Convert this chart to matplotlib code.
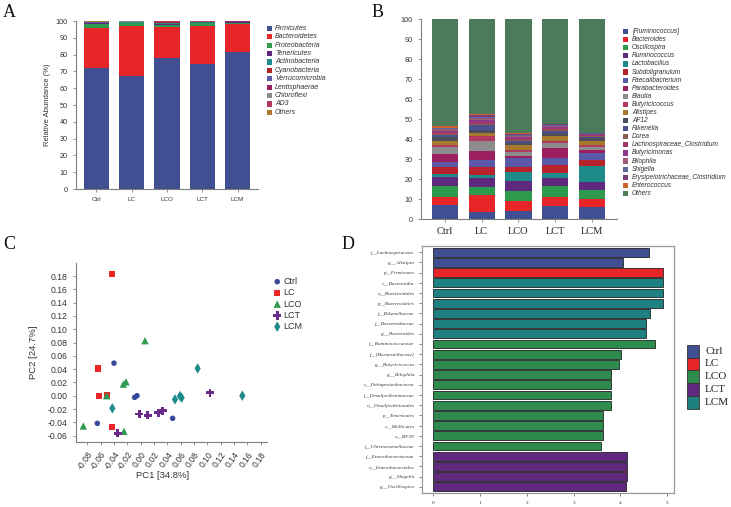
import matplotlib
matplotlib.use('Agg')
import matplotlib.pyplot as plt
from matplotlib.patches import Rectangle
import numpy as np

W, H = 731, 507
fig = plt.figure(figsize=(W / 100, H / 100), dpi=100)
SANS = 'Liberation Sans'
SERIF = 'Liberation Serif'

# ---------------- data ----------------
groups = ['Ctrl', 'LC', 'LCO', 'LCT', 'LCM']

# Panel A: phylum level relative abundance (%)
phyla = ['Firmicutes', 'Bacteroidetes', 'Proteobacteria', 'Tenericutes', 'Actinobacteria',
         'Cyanobacteria', 'Verrucomicrobia', 'Lentisphaerae', 'Chloroflexi', 'AD3', 'Others']
phylum_ctrl = [72.2, 23.6, 2.2, 0.6, 0.3, 0.2, 0.2, 0.2, 0.1, 0.1, 0.3]
phylum_lc = [67.2, 30.0, 1.4, 0.5, 0.2, 0.2, 0.1, 0.1, 0.1, 0.1, 0.1]
phylum_lco = [78.0, 18.2, 1.6, 0.7, 0.4, 0.3, 0.2, 0.2, 0.1, 0.1, 0.2]
phylum_lct = [74.2, 23.0, 1.4, 0.4, 0.2, 0.2, 0.1, 0.1, 0.1, 0.1, 0.2]
phylum_lcm = [81.5, 16.5, 0.6, 0.6, 0.2, 0.2, 0.1, 0.1, 0.05, 0.05, 0.1]

# Panel B: genus level relative abundance (%)
genera = ['[Ruminococcus]', 'Bacteroides', 'Oscillospira', 'Ruminococcus', 'Lactobacillus',
          'Subdoligranulum', 'Faecalibacterium', 'Parabacteroides', 'Blautia', 'Butyricicoccus',
          'Alistipes', 'AF12', 'Rikenella', 'Dorea', 'Lachnospiraceae_Clostridium',
          'Butyricimonas', 'Bilophila', 'Shigella', 'Erysipelotrichaceae_Clostridium',
          'Enterococcus', 'Others']
genus_ctrl = [7.0, 4.0, 5.3, 4.7, 1.5, 3.7, 2.3, 4.0, 3.3, 1.2, 2.2, 1.6, 1.2, 0.6, 0.9, 0.7, 0.8, 0.3, 0.4, 0.7, 53.6]
genus_lc = [3.5, 8.5, 4.0, 4.5, 1.3, 4.2, 3.3, 4.5, 5.4, 2.3, 1.7, 1.3, 2.3, 0.5, 1.3, 0.9, 1.0, 0.5, 0.8, 0.5, 47.7]
genus_lco = [4.0, 5.2, 5.0, 5.0, 4.5, 2.5, 4.1, 1.4, 1.7, 1.1, 2.3, 1.4, 0.8, 0.5, 0.8, 0.7, 0.6, 0.4, 0.5, 0.3, 57.2]
genus_lct = [6.7, 4.3, 5.5, 4.2, 2.3, 3.8, 3.9, 4.8, 2.3, 1.2, 2.3, 1.5, 1.2, 0.5, 0.8, 0.7, 0.6, 0.4, 0.3, 0.3, 52.4]
genus_lcm = [6.0, 3.8, 4.7, 4.0, 8.0, 3.2, 3.1, 1.5, 1.5, 1.2, 2.2, 1.3, 0.5, 0.4, 0.6, 0.3, 0.3, 0.2, 0.2, 0.2, 56.8]

# Panel C: PCoA coordinates
pc1_ctrl = [-0.040, -0.065, -0.009, -0.0055, 0.048]
pc2_ctrl = [0.049, -0.0416, -0.0025, 0.000, -0.034]
pc1_lc = [-0.0435, -0.0645, -0.062, -0.051, -0.0425]
pc2_lc = [0.183, 0.041, -0.001, 0.0005, -0.0476]
pc1_lco = [0.0065, -0.022, -0.026, -0.051, -0.086, -0.025]
pc2_lco = [0.0827, 0.021, 0.0175, 0.000, -0.0456, -0.0536]
pc1_lct = [-0.0345, -0.002, 0.0105, 0.0265, 0.033, 0.104]
pc2_lct = [-0.0566, -0.0276, -0.0296, -0.0256, -0.0226, 0.0045]
pc1_lcm = [-0.0425, 0.0515, 0.059, 0.0615, 0.0855, 0.1525]
pc2_lcm = [-0.019, -0.0055, -0.0005, -0.003, 0.041, 0.000]

# Panel D: LDA scores
lda_taxa = ['f__Lachnospiraceae', 'g__Alistipes', 'p__Firmicutes', 'c__Bacteroidia',
            'o__Bacteroidales', 'p__Bacteroidetes', 'f__Rikenellaceae', 'f__Bacteroidaceae',
            'g__Bacteroides', 'f__Ruminococcaceae', 'f__[Barnesiellaceae]', 'g__Butyricicoccus',
            'g__Bilophila', 'c__Deltaproteobacteria', 'f__Desulfovibrionaceae',
            'o__Desulfovibrionales', 'p__Tenericutes', 'c__Mollicutes', 'o__RF39',
            'f__Christensenellaceae', 'f__Enterobacteriaceae', 'o__Enterobacteriales',
            'g__Shigella', 'g__Oscillospira']
lda_score = [4.61, 4.05, 4.90, 4.90, 4.90, 4.90, 4.64, 4.54, 4.54, 4.73, 4.02, 3.96,
             3.79, 3.79, 3.79, 3.79, 3.62, 3.62, 3.62, 3.58, 4.13, 4.13, 4.13, 4.11]
lda_group = ['Ctrl', 'Ctrl', 'LC', 'LCM', 'LCM', 'LCM', 'LCM', 'LCM', 'LCM',
             'LCO', 'LCO', 'LCO', 'LCO', 'LCO', 'LCO', 'LCO', 'LCO', 'LCO', 'LCO', 'LCO',
             'LCT', 'LCT', 'LCT', 'LCT']

# ---------------- styles ----------------
pal = ['#3f4f91', '#e8262a', '#2e9a4e', '#5f2a7e', '#1e8a8a', '#b8232b', '#5a5aa8',
       '#9c2060', '#8c8c8c', '#b23a5f', '#a87a2e', '#4d4f5c', '#4a5090', '#8a5f4f',
       '#a0386a', '#8a3a8a', '#9a5a78', '#5a6598', '#7a3d7a', '#d2602a', '#4b7b5b']
phylum_colors = pal[:10] + ['#a87a2e']
grp_colors = {'Ctrl': '#3f4f91', 'LC': '#e8262a', 'LCO': '#2e8b4e', 'LCT': '#5f2a7e', 'LCM': '#1e8080'}
AXC = '#7f7f7f'


def ax_px(l, t, r, b):
    return fig.add_axes([l / W, 1 - b / H, (r - l) / W, (b - t) / H])


def fig_key(x, y, w, h, color, ec='none', lw=0.0):
    fig.patches.append(Rectangle((x / W, 1 - (y + h) / H), w / W, h / H,
                                 transform=fig.transFigure, facecolor=color,
                                 edgecolor=ec, linewidth=lw))


def fig_txt(x, y, s, **kw):
    fig.text(x / W, 1 - y / H, s, **kw)


def style_lb(ax):
    for s in ['top', 'right']:
        ax.spines[s].set_visible(False)
    for s in ['left', 'bottom']:
        ax.spines[s].set_color(AXC)
        ax.spines[s].set_linewidth(0.8)
    ax.tick_params(colors=AXC, width=0.6, length=2.5)


def stacked(ax, series, colors, width):
    x = np.arange(len(groups))
    mat = np.array(series)
    bottom = np.zeros(len(groups))
    for j in range(mat.shape[1]):
        ax.bar(x, mat[:, j], bottom=bottom, width=width, color=colors[j], edgecolor='none')
        bottom += mat[:, j]
    ax.set_xticks(x)
    ax.set_xticklabels(groups)


# ---------------- Panel A ----------------
axA = ax_px(76, 21, 258, 189)
stacked(axA, [phylum_ctrl, phylum_lc, phylum_lco, phylum_lct, phylum_lcm], phylum_colors, 0.71)
axA.set_xlim(-0.58, 4.58)
axA.set_ylim(0, 100)
axA.set_yticks(range(0, 101, 10))
style_lb(axA)
for t in axA.get_yticklabels():
    t.set_fontfamily(SANS); t.set_fontsize(5.2); t.set_color('#333333')
for t in axA.get_xticklabels():
    t.set_fontfamily(SANS); t.set_fontsize(4.5); t.set_color('#333333')
axA.set_ylabel('Relative Abundance (%)', fontfamily=SANS, fontsize=5.5, color='#333333')
axA.yaxis.set_label_coords(-0.135, 0.5)
for i, name in enumerate(phyla):
    yc = 28.3 + i * 8.4
    fig_key(267, yc - 2.6, 5.2, 5.2, phylum_colors[i])
    fig_txt(275, yc, name, fontfamily=SANS, fontstyle='italic', fontsize=5.0,
            color='#333333', va='center', ha='left')

# ---------------- Panel B ----------------
axB = ax_px(421, 19, 617, 219)
stacked(axB, [genus_ctrl, genus_lc, genus_lco, genus_lct, genus_lcm], pal, 0.71)
axB.set_xlim(-0.65, 4.68)
axB.set_ylim(0, 100)
axB.set_yticks(range(0, 101, 10))
style_lb(axB)
for t in axB.get_yticklabels():
    t.set_fontfamily(SANS); t.set_fontsize(5.2); t.set_color('#333333')
for t in axB.get_xticklabels():
    t.set_fontfamily(SERIF); t.set_fontsize(7.5); t.set_color('#222222')
for i, name in enumerate(genera):
    yc = 31.5 + i * 8.1
    fig_key(623, yc - 2.6, 5.2, 5.2, pal[i])
    fig_txt(632, yc, name, fontfamily=SANS, fontstyle='italic', fontsize=4.8,
            color='#333333', va='center', ha='left')

# ---------------- Panel C ----------------
axC = ax_px(76, 262.7, 267.3, 441.6)
axC.set_xlim(-0.097, 0.19)
axC.set_ylim(-0.069, 0.20)
style_lb(axC)
sc = [
    (pc1_ctrl, pc2_ctrl, 'Ctrl', 'o', 16, '#3a4a9a'),
    (pc1_lc, pc2_lc, 'LC', 's', 20, '#e8262a'),
    (pc1_lco, pc2_lco, 'LCO', '^', 28, '#2e9a4e'),
    (pc1_lct, pc2_lct, 'LCT', 'P', 34, '#6a2a8a'),
    (pc1_lcm, pc2_lcm, 'LCM', 'd', 28, '#1e8a8a'),
]
for xs, ys, lab, mk, s, c in sc:
    axC.scatter(xs, ys, marker=mk, s=s, color=c, edgecolors='none', label=lab, zorder=3)
xt = np.round(np.arange(-0.08, 0.181, 0.02), 2)
yt = np.round(np.arange(-0.06, 0.181, 0.02), 2)
axC.set_xticks(xt)
axC.set_xticklabels(['%.2f' % v for v in xt], rotation=55, ha='right', rotation_mode='anchor')
axC.set_yticks(yt)
axC.set_yticklabels(['%.2f' % v for v in yt])
for t in axC.get_xticklabels() + axC.get_yticklabels():
    t.set_fontfamily(SANS); t.set_fontsize(6.2); t.set_color('#333333')
axC.set_xlabel('PC1 [34.8%]', fontfamily=SANS, fontsize=6.8, color='#333333')
axC.set_ylabel('PC2 [24.7%]', fontfamily=SANS, fontsize=6.8, color='#333333')
axC.xaxis.set_label_coords(0.45, -0.165)
axC.yaxis.set_label_coords(-0.2, 0.5)
legC = axC.legend(loc='upper left', bbox_to_anchor=(1.0, 0.95), frameon=False,
                  prop={'family': SANS, 'size': 6.5}, handletextpad=0.2,
                  labelspacing=0.25, borderpad=0.1, handlelength=1.0)
for t in legC.get_texts():
    t.set_color('#333333')

# ---------------- Panel D ----------------
axD = ax_px(422, 246, 674, 493)
ypos = np.arange(1, len(lda_taxa) + 1)
axD.barh(ypos, lda_score, height=0.86, color=[grp_colors[g] for g in lda_group],
         edgecolor='#222222', linewidth=0.6)
axD.set_xlim(-0.245, 5.145)
axD.set_ylim(len(lda_taxa) + 0.6, 0.4)
axD.set_yticks(ypos)
axD.set_yticklabels(lda_taxa)
axD.set_xticks(range(0, 6))
for s in axD.spines.values():
    s.set_color('#9a9a9a'); s.set_linewidth(0.9)
axD.tick_params(colors='#555555', width=0.5, length=2)
for t in axD.get_yticklabels():
    t.set_fontfamily(SERIF); t.set_fontstyle('italic'); t.set_fontsize(3.8); t.set_color('#333333')
for t in axD.get_xticklabels():
    t.set_fontfamily(SERIF); t.set_fontsize(3.8); t.set_color('#333333')
for i, g in enumerate(groups):
    y0 = 345 + i * 12.7
    fig_key(687, y0, 12, 12.7, grp_colors[g], ec='#333333', lw=0.6)
    fig_txt(705, y0 + 6.3, g, fontfamily=SERIF, fontsize=8, color='#222222', va='center', ha='left')

# ---------------- panel letters ----------------
for lab, x, y in [('A', 3, 4), ('B', 372, 4), ('C', 3, 236), ('D', 342, 236)]:
    fig_txt(x, y, lab, fontfamily=SERIF, fontsize=13, color='#111111', va='top', ha='left')

fig.savefig('out.png', dpi=100)
